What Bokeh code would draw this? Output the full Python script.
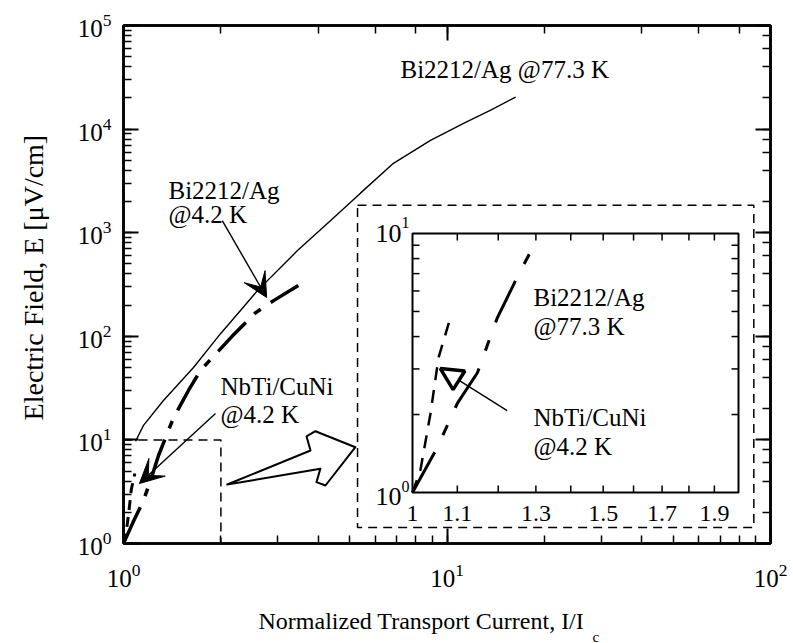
import math
from bokeh.plotting import figure
from bokeh.layouts import row, column
from bokeh.models import (Range1d, LogScale, LogAxis, Label, Arrow, NormalHead,
                          VeeHead, CustomJSTickFormatter)
from bokeh.embed import file_html
from bokeh.resources import INLINE

FONT = "Liberation Serif"

# ---------------- data ----------------
# main panel
bi77_x = [1.09, 1.153, 1.329, 1.646, 1.995, 2.595, 3.45, 4.36, 5.40, 6.83, 8.89, 11.25, 13.6, 16.3]
bi77_y = [9.7, 13.8, 24.0, 50.0, 106, 276, 672, 1306, 2409, 4678, 7768, 11341, 15201, 20389]

bi42_x = [1.0, 1.07, 1.153, 1.22, 1.283, 1.428, 1.588, 1.729, 2.173, 2.56, 2.91, 3.47]
bi42_y = [1.0, 1.6, 2.6, 4.3, 7.07, 16.4, 30.0, 46.8, 101, 169, 221, 310]

nbti_x = [1.0, 1.017, 1.039, 1.057, 1.084]
nbti_y = [1.0, 1.22, 2.02, 3.32, 4.74]

# inset panel
in_bi_x = [1.0, 1.054, 1.10, 1.148, 1.197, 1.249, 1.29]
in_bi_y = [1.0, 1.49, 2.21, 2.9, 4.7, 6.76, 8.76]
in_nb_x = [1.0, 1.017, 1.039, 1.057, 1.084]
in_nb_y = [1.0, 1.22, 2.02, 3.32, 4.74]

# zoom box (main coords) and inset outer box (main coords)
zoom_box_x = [1.0, 2.0, 2.0]
zoom_box_y = [10.0, 10.0, 1.0]
outer_box = dict(left=5.29, right=88.8, bottom=1.43, top=1837)

# big hollow arrow outline (main coords)
big_arrow_x = [2.092, 3.785, 3.68, 3.92, 5.21, 4.21, 3.95, 4.06]
big_arrow_y = [3.71, 7.90, 10.79, 12.13, 8.50, 3.63, 3.91, 5.26]

# inset ticks
in_xticks = [1.1, 1.2, 1.3, 1.4, 1.5, 1.6, 1.7, 1.8, 1.9]
in_xlabels = ["1", "1.1", "1.3", "1.5", "1.7", "1.9"]
in_xlabel_pos = [1.0, 1.1, 1.3, 1.5, 1.7, 1.9]
in_yticks = [2, 3, 4, 5, 6, 7, 8, 9]

# ---------------- layout (pixels) ----------------
W, H = 793, 643
LEFT_W = 60          # strip holding the y title
MAIN_H = 600         # main figure height; strip below holds the x title
FR_L, FR_R, FR_T, FR_B = 123, 770, 25, 543
IN_L, IN_R, IN_T, IN_B = 412, 738, 233, 492
ANN = "25px"

p = figure(width=W - LEFT_W, height=MAIN_H, x_axis_type="log", y_axis_type="log",
           x_range=Range1d(1, 100), y_range=Range1d(1, 1e5),
           output_backend="svg", toolbar_location=None,
           min_border_left=FR_L - LEFT_W, min_border_right=W - FR_R,
           min_border_top=FR_T, min_border_bottom=MAIN_H - FR_B)
p.grid.visible = False
p.outline_line_color = "black"
p.outline_line_width = 2.5


def style_axis(ax):
    ax.axis_line_width = 2.5
    ax.major_tick_in = 15
    ax.major_tick_out = 0
    ax.minor_tick_in = 8
    ax.minor_tick_out = 0
    ax.major_tick_line_width = 2
    ax.minor_tick_line_width = 1.5
    ax.major_label_text_font = FONT
    ax.major_label_text_font_size = "25px"
    ax.major_label_text_color = "black"


for ax in p.xaxis:
    style_axis(ax)
    ax.major_label_standoff = 20
for ax in p.yaxis:
    style_axis(ax)
    ax.major_label_standoff = 12

blank = CustomJSTickFormatter(code="return ''")
top_ax = LogAxis(formatter=blank, major_label_standoff=0)
right_ax = LogAxis(formatter=blank, major_label_standoff=0)
style_axis(top_ax)
style_axis(right_ax)
p.add_layout(top_ax, "above")
p.add_layout(right_ax, "right")

# inset coordinate system
ipd_x = (IN_R - IN_L) / math.log10(2.0)
ipd_y = (IN_B - IN_T) / 1.0
p.extra_x_ranges = {"ix": Range1d(10 ** (-(IN_L - FR_L) / ipd_x), 10 ** (math.log10(2.0) + (FR_R - IN_R) / ipd_x))}
p.extra_y_ranges = {"iy": Range1d(10 ** (-(FR_B - IN_B) / ipd_y), 10 ** (1 + (IN_T - FR_T) / ipd_y))}
p.extra_x_scales = {"ix": LogScale()}
p.extra_y_scales = {"iy": LogScale()}
IN = dict(x_range_name="ix", y_range_name="iy")

# ---------------- main curves ----------------
p.line(bi77_x, bi77_y, line_color="black", line_width=1.4)
p.line(bi42_x, bi42_y, line_color="black", line_width=3.5, line_dash="40 12 8 12")
p.line(nbti_x, nbti_y, line_color="black", line_width=3, line_dash="10 7")

# zoom box and outer inset box
p.line(zoom_box_x, zoom_box_y, line_color="black", line_width=1.5, line_dash="9 6")
p.quad(left=[outer_box["left"]], right=[outer_box["right"]],
       bottom=[outer_box["bottom"]], top=[outer_box["top"]],
       fill_color="white", line_color="black", line_width=1.5, line_dash="9 6")

# big hollow arrow
p.patch(big_arrow_x, big_arrow_y, fill_color="white", line_color="black", line_width=2,
        line_join="round")

# ---------------- inset ----------------
p.quad(left=[1.0], right=[2.0], bottom=[1.0], top=[10.0], fill_color="white",
       line_color="black", line_width=2, **IN)
p.line(in_bi_x, in_bi_y, line_color="black", line_width=3, line_dash="46 19 11 19", **IN)
p.line(in_nb_x, in_nb_y, line_color="black", line_width=2.5, line_dash="13 10", **IN)

TL = 7
p.ray(x=in_xticks, y=[1.0] * len(in_xticks), length=TL, length_units="screen",
      angle=90, angle_units="deg", line_color="black", line_width=1.5, **IN)
p.ray(x=in_xticks, y=[10.0] * len(in_xticks), length=TL, length_units="screen",
      angle=-90, angle_units="deg", line_color="black", line_width=1.5, **IN)
p.ray(x=[1.0] * len(in_yticks), y=in_yticks, length=TL, length_units="screen",
      angle=0, angle_units="deg", line_color="black", line_width=1.5, **IN)
p.ray(x=[2.0] * len(in_yticks), y=in_yticks, length=TL, length_units="screen",
      angle=180, angle_units="deg", line_color="black", line_width=1.5, **IN)

for xv, txt in zip(in_xlabel_pos, in_xlabels):
    p.add_layout(Label(x=xv, y=1.0, text=txt, y_offset=-21, text_align="center",
                       text_baseline="middle", text_font=FONT, text_font_size="24px",
                       text_color="black", **IN))

for yv, dy_base, dy_sup in [(10.0, 0, 11), (1.0, -4, 6)]:
    p.add_layout(Label(x=1.0, y=yv, text="10", x_offset=-11, y_offset=dy_base,
                       text_align="right", text_baseline="middle", text_font=FONT,
                       text_font_size="26px", text_color="black", **IN))
    p.add_layout(Label(x=1.0, y=yv, text="1" if yv == 10.0 else "0", x_offset=-11,
                       y_offset=dy_sup, text_align="left", text_baseline="middle",
                       text_font=FONT, text_font_size="16px", text_color="black", **IN))

p.add_layout(Arrow(end=NormalHead(size=22, fill_color="white", line_color="black", line_width=3.5),
                   x_start=1.223, y_start=2.07, x_end=1.061, y_end=3.01,
                   line_color="black", line_width=1.4, **IN))

# ---------------- main annotations ----------------
p.add_layout(Arrow(end=VeeHead(size=24, fill_color="black", line_color="black"),
                   x_start=2.02, y_start=1306, x_end=2.77, y_end=237,
                   line_color="black", line_width=1.4))
p.add_layout(Arrow(end=VeeHead(size=24, fill_color="black", line_color="black"),
                   x_start=1.925, y_start=18.0, x_end=1.12, y_end=3.79,
                   line_color="black", line_width=1.4))


def plabel(px, py, text, size=ANN, align="left"):
    """Text placed in page pixels, relative to the main frame's bottom-left corner."""
    p.add_layout(Label(x=1.0, y=1.0, x_offset=px - FR_L, y_offset=FR_B - py, text=text,
                       text_align=align, text_baseline="middle", text_font=FONT,
                       text_font_size=size, text_color="black"))


plabel(400, 69, "Bi2212/Ag  @77.3 K")
plabel(168, 190, "Bi2212/Ag")
plabel(168, 214, "@4.2 K")
plabel(220, 386, "NbTi/CuNi")
plabel(220, 414, "@4.2 K")
plabel(533, 297, "Bi2212/Ag")
plabel(533, 326, "@77.3 K")
plabel(533, 417, "NbTi/CuNi")
plabel(533, 446, "@4.2 K")


# ---------------- title strips ----------------
def strip(w, h):
    f = figure(width=w, height=h, x_range=Range1d(0, w), y_range=Range1d(h, 0),
               output_backend="svg", toolbar_location=None,
               x_axis_location=None, y_axis_location=None,
               min_border=0, min_border_left=0, min_border_right=0,
               min_border_top=0, min_border_bottom=0)
    f.grid.visible = False
    f.outline_line_color = None
    return f


ytitle = strip(LEFT_W, MAIN_H)
ytitle.add_layout(Label(x=33, y=292, text="Electric Field, E [\u03bcV/cm]", angle=math.pi / 2,
                        text_align="center", text_baseline="middle", text_font=FONT,
                        text_font_size="28px", text_color="black"))

xtitle = strip(W, H - MAIN_H)
xtitle.add_layout(Label(x=258, y=620 - MAIN_H, text="Normalized Transport Current, I/I",
                        text_align="left", text_baseline="middle", text_font=FONT,
                        text_font_size="24px", text_color="black"))
xtitle.add_layout(Label(x=592, y=636 - MAIN_H, text="c",
                        text_align="left", text_baseline="middle", text_font=FONT,
                        text_font_size="15px", text_color="black"))

layout = column(row(ytitle, p, spacing=0), xtitle, spacing=0)
open("out.html", "w").write(file_html(layout, INLINE))
